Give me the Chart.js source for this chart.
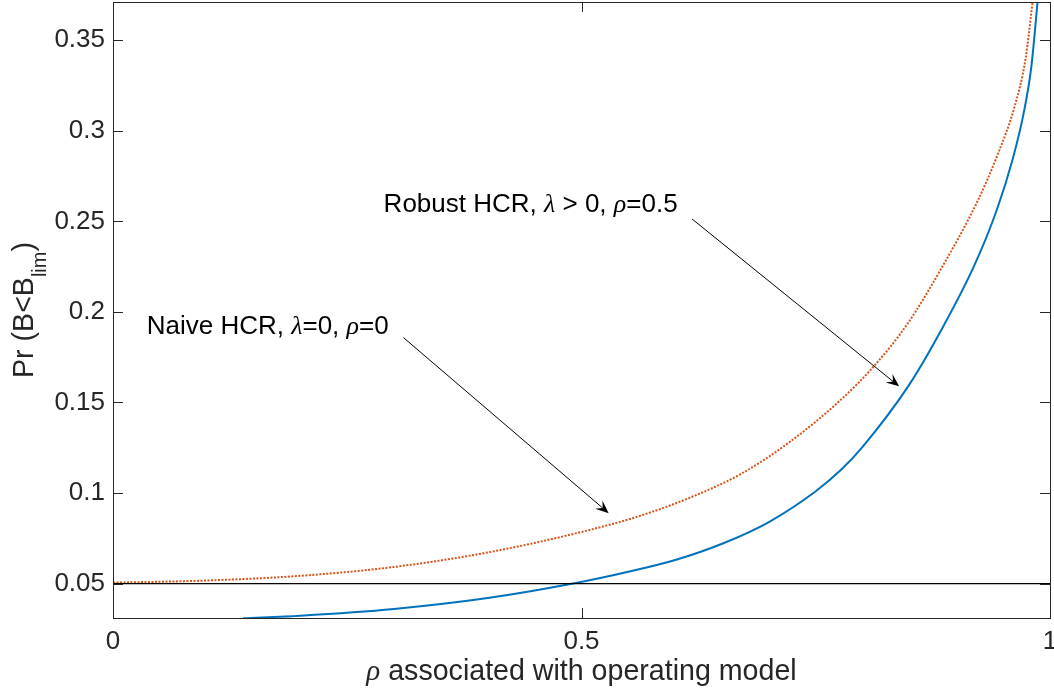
<!DOCTYPE html>
<html>
<head>
<meta charset="utf-8">
<script src="https://cdn.jsdelivr.net/npm/chart.js@4.4.0/dist/chart.umd.min.js"></script>
<style>
html,body{margin:0;padding:0;background:#fff;}
#wrap{width:1054px;height:698px;}
</style>
</head>
<body>
<div id="wrap"><canvas id="grafica" width="1054" height="698"></canvas></div>
<script>
// curva azul (HCR robusta) y curva roja punteada (HCR ingenua)
var RHO_AZUL=[0.139,0.2,0.3,0.4,0.491,0.55,0.6,0.65,0.7,0.75,0.777,0.8,0.85,0.884,0.919,0.943,0.96,0.972,0.98,0.9868];
var PR_AZUL=[0.0309,0.0323,0.0360,0.0420,0.0500,0.0565,0.0630,0.0720,0.0840,0.1010,0.1128,0.1255,0.160,0.190,0.2254,0.2560,0.2840,0.310,0.335,0.3715];
var RHO_ROJO=[0,0.1,0.2,0.3,0.4,0.5,0.563,0.616,0.67,0.723,0.777,0.812,0.848,0.884,0.9227,0.945,0.962,0.974,0.9815];
var PR_ROJO=[0.0505,0.0517,0.0543,0.0592,0.0672,0.0785,0.0875,0.0975,0.1105,0.1285,0.1516,0.1700,0.1935,0.2240,0.2612,0.2880,0.3130,0.340,0.3715];
// linea de referencia Pr = 0.05
var RHO_REF=[0,1];
var PR_REF=[0.05,0.05];

var TICKS_X=[0,0.5,1];
var ETIQ_X=["0","0.5","1"];
var TICKS_Y=[0.05,0.1,0.15,0.2,0.25,0.3,0.35];
var ETIQ_Y=["0.05","0.1","0.15","0.2","0.25","0.3","0.35"];

var SANS="'Liberation Sans', Arial, Helvetica, sans-serif";
var SERIF="'Liberation Serif', 'DejaVu Serif', serif";
var GRIS="#262626";

// anotaciones en coordenadas de datos
var NOTAS=[
	{x:0.2888,y:0.2552,partes:[["Robust HCR, ",0],["\u03bb",1],[" > 0, ",0],["\u03c1",1],["=0.5",0]],
	 desde:[0.618,0.2513],hasta:[0.839,0.1589]},
	{x:0.036,y:0.1876,partes:[["Naive HCR, ",0],["\u03bb",1],["=0, ",0],["\u03c1",1],["=0",0]],
	 desde:[0.310,0.1858],hasta:[0.529,0.0889]}
];

function puntos(xs,ys){
	var r=new Array();
	for(var i=0;i<xs.length;i++){ r.push({x:xs[i],y:ys[i]}); }
	return r;
}

function escribir(ctx,partes,x,y,centrar){
	var total=0;
	for(var i=0;i<partes.length;i++){ ctx.font=partes[i].f; total+=ctx.measureText(partes[i].t).width; }
	var cx=centrar ? x-total/2 : x;
	ctx.textAlign='left';
	ctx.textBaseline='alphabetic';
	for(var i=0;i<partes.length;i++){
		ctx.font=partes[i].f;
		ctx.fillText(partes[i].t,cx,y+(partes[i].dy||0));
		cx+=ctx.measureText(partes[i].t).width;
	}
}

function flecha(ctx,x1,y1,x2,y2){
	var ang=Math.atan2(y2-y1,x2-x1);
	var L=13, W=5.5;
	var c=Math.cos(ang), s=Math.sin(ang);
	ctx.beginPath();
	ctx.moveTo(x1,y1);
	ctx.lineTo(x2-L*0.6*c,y2-L*0.6*s);
	ctx.stroke();
	var bx=x2-L*c, by=y2-L*s;
	ctx.beginPath();
	ctx.moveTo(x2,y2);
	ctx.lineTo(bx-W*s,by+W*c);
	ctx.lineTo(x2-L*0.6*c,y2-L*0.6*s);
	ctx.lineTo(bx+W*s,by-W*c);
	ctx.closePath();
	ctx.fill();
}

var marcoMatlab={
	id:'marcoMatlab',
	afterDraw:function(chart){
		var ctx=chart.ctx, a=chart.chartArea;
		var sx=chart.scales.x, sy=chart.scales.y;
		ctx.save();
		// caja
		ctx.strokeStyle=GRIS;
		ctx.lineWidth=1;
		ctx.strokeRect(Math.round(a.left)+0.5,Math.round(a.top)+0.5,Math.round(a.right-a.left),Math.round(a.bottom-a.top));
		// marcas hacia dentro
		ctx.beginPath();
		for(var i=0;i<TICKS_Y.length;i++){
			var py=Math.round(sy.getPixelForValue(TICKS_Y[i]))+0.5;
			ctx.moveTo(a.left,py); ctx.lineTo(a.left+10,py);
			ctx.moveTo(a.right,py); ctx.lineTo(a.right-10,py);
		}
		for(var i=0;i<TICKS_X.length;i++){
			var px=Math.round(sx.getPixelForValue(TICKS_X[i]))+0.5;
			ctx.moveTo(px,a.bottom); ctx.lineTo(px,a.bottom-10);
			ctx.moveTo(px,a.top); ctx.lineTo(px,a.top+10);
		}
		ctx.stroke();

		// titulos de ejes
		ctx.fillStyle=GRIS;
		escribir(ctx,[
			{t:"\u03c1",f:"italic 29px "+SERIF},
			{t:" associated with operating model",f:"28.6px "+SANS}
		],(a.left+a.right)/2,a.bottom+62,true);

		ctx.save();
		ctx.translate(a.left-80,(a.top+a.bottom)/2);
		ctx.rotate(-Math.PI/2);
		escribir(ctx,[
			{t:"Pr (B<B",f:"28.6px "+SANS},
			{t:"lim",f:"20px "+SANS,dy:13},
			{t:")",f:"28.6px "+SANS}
		],0,0,true);
		ctx.restore();

		// anotaciones con flechas
		ctx.fillStyle="#000";
		ctx.strokeStyle="#000";
		ctx.lineWidth=1;
		for(var k=0;k<NOTAS.length;k++){
			var n=NOTAS[k];
			var partes=n.partes.map(function(p){
				return {t:p[0],f:p[1] ? "italic 26px "+SERIF : "26px "+SANS};
			});
			escribir(ctx,partes,sx.getPixelForValue(n.x),sy.getPixelForValue(n.y),false);
			flecha(ctx,sx.getPixelForValue(n.desde[0]),sy.getPixelForValue(n.desde[1]),
				sx.getPixelForValue(n.hasta[0]),sy.getPixelForValue(n.hasta[1]));
		}
		ctx.restore();
	}
};

var config={
	type:'line',
	data:{
		datasets:[{
			label:'Pr = 0.05',
			data:puntos(RHO_REF,PR_REF),
			borderColor:'#000000',
			borderWidth:1.3,
			pointRadius:0,
			clip:0
		},{
			label:'Naive HCR',
			data:puntos(RHO_ROJO,PR_ROJO),
			borderColor:'#D95319',
			borderWidth:2,
			borderDash:[2,1.5],
			pointRadius:0,
			cubicInterpolationMode:'monotone',
			clip:0
		},{
			label:'Robust HCR',
			data:puntos(RHO_AZUL,PR_AZUL),
			borderColor:'#0072BD',
			borderWidth:2,
			pointRadius:0,
			cubicInterpolationMode:'monotone',
			clip:0
		}]
	},
	options:{
		responsive:false,
		devicePixelRatio:1,
		animation:false,
		events:[],
		layout:{padding:{top:2,right:4,left:0,bottom:0}},
		plugins:{legend:{display:false},tooltip:{enabled:false}},
		scales:{
			x:{
				type:'linear',min:0,max:1,
				grid:{display:false,drawTicks:false},
				border:{display:false},
				afterFit:function(s){ s.height=80; s.paddingLeft=0; s.paddingRight=0; },
				afterBuildTicks:function(s){ s.ticks=TICKS_X.map(function(v){return {value:v};}); },
				ticks:{
					padding:8,color:GRIS,maxRotation:0,autoSkip:false,
					font:{family:SANS,size:26},
					callback:function(v){ var i=TICKS_X.indexOf(v); return i>=0 ? ETIQ_X[i] : ''; }
				}
			},
			y:{
				type:'linear',min:0.031,max:0.3711,
				grid:{display:false,drawTicks:false},
				border:{display:false},
				afterFit:function(s){ s.width=113; s.paddingTop=0; s.paddingBottom=0; },
				afterBuildTicks:function(s){ s.ticks=TICKS_Y.map(function(v){return {value:v};}); },
				ticks:{
					padding:8,color:GRIS,autoSkip:false,
					font:{family:SANS,size:26},
					callback:function(v){ var i=TICKS_Y.indexOf(v); return i>=0 ? ETIQ_Y[i] : ''; }
				}
			}
		}
	},
	plugins:[marcoMatlab]
};

new Chart(document.getElementById('grafica').getContext('2d'),config);
</script>
</body>
</html>
